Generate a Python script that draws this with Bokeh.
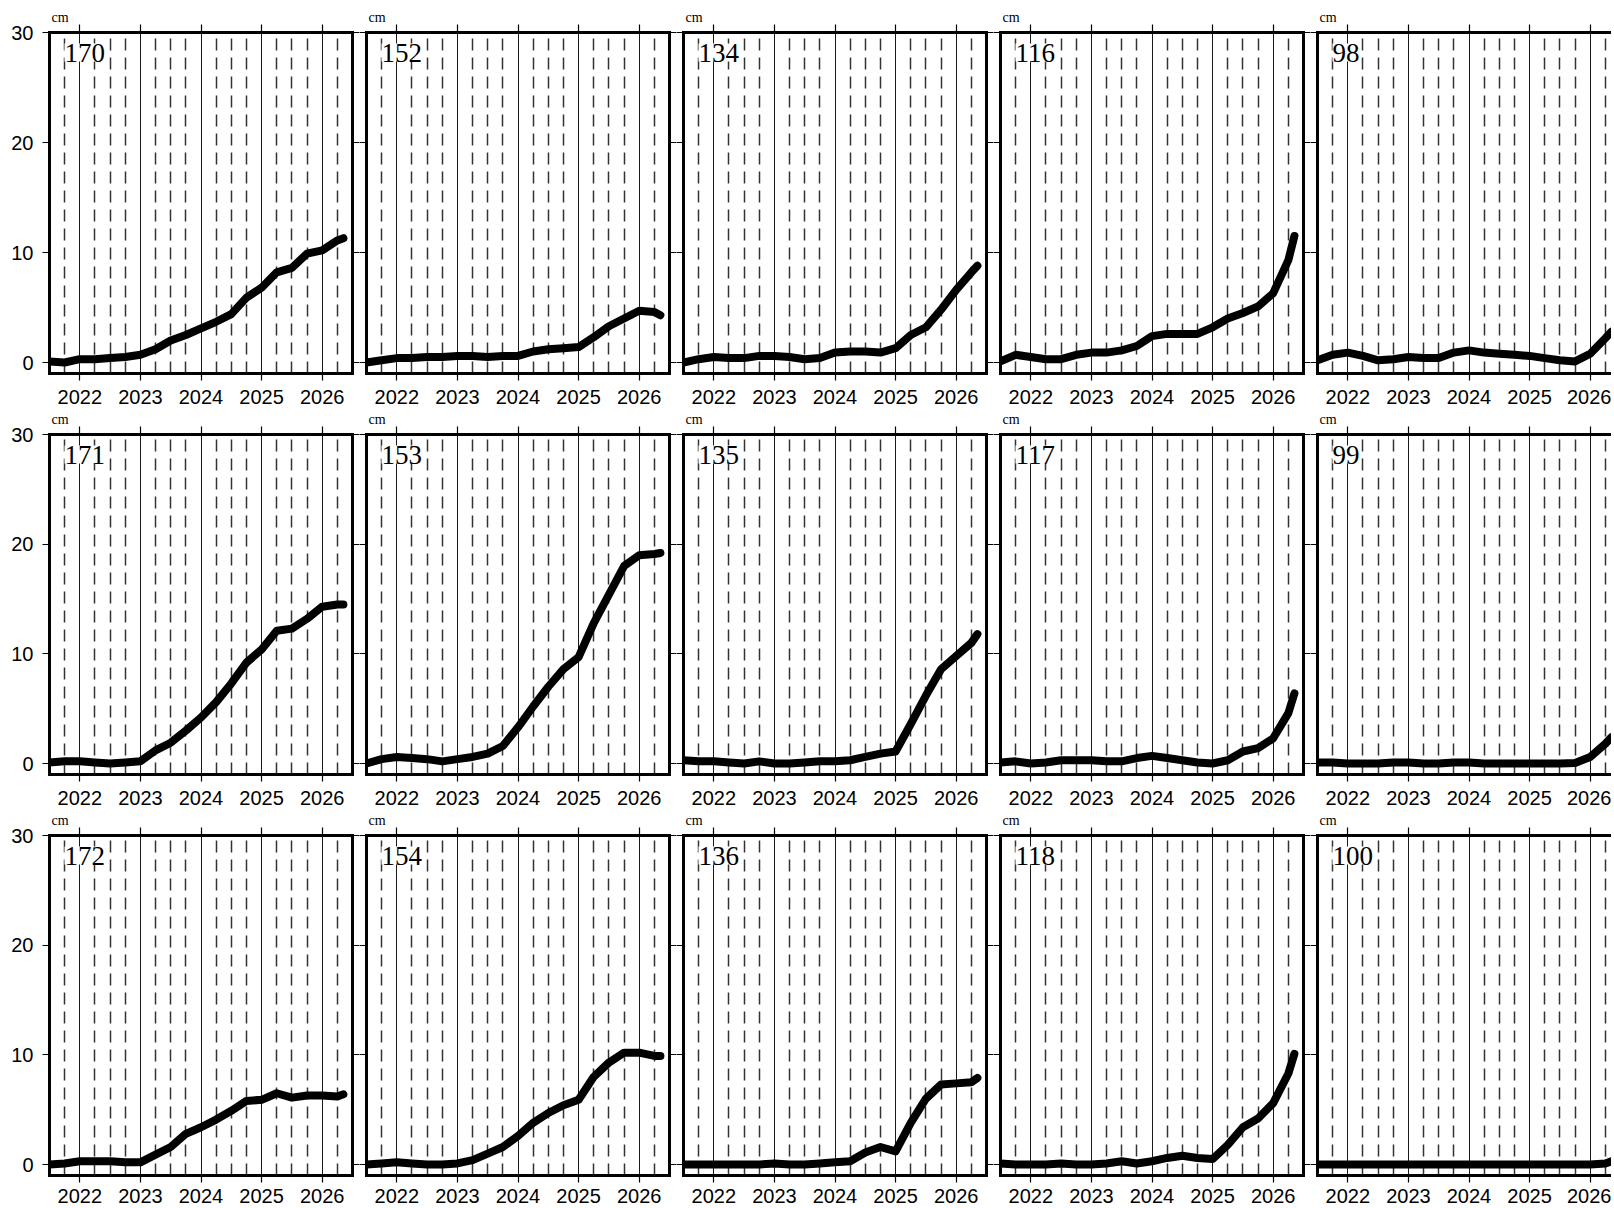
from bokeh.plotting import figure
from bokeh.models import Range1d, FixedTicker, LinearAxis, Label
from bokeh.layouts import column, row
from bokeh.embed import file_html
from bokeh.resources import INLINE

# ---------------- data ----------------
t = [2021.5, 2021.75, 2022.0, 2022.25, 2022.5, 2022.75, 2023.0, 2023.25, 2023.5, 2023.75,
     2024.0, 2024.25, 2024.5, 2024.75, 2025.0, 2025.25, 2025.5, 2025.75, 2026.0, 2026.25, 2026.35]

s170 = [0.1, 0.0, 0.3, 0.3, 0.4, 0.5, 0.7, 1.2, 2.0, 2.5, 3.1, 3.7, 4.4, 5.9, 6.8, 8.2, 8.6, 9.9, 10.2, 11.1, 11.3]
s152 = [0.0, 0.2, 0.4, 0.4, 0.5, 0.5, 0.6, 0.6, 0.5, 0.6, 0.6, 1.0, 1.2, 1.3, 1.4, 2.3, 3.3, 4.0, 4.7, 4.6, 4.3]
s134 = [0.0, 0.3, 0.5, 0.4, 0.4, 0.6, 0.6, 0.5, 0.3, 0.4, 0.9, 1.0, 1.0, 0.9, 1.3, 2.5, 3.2, 4.8, 6.6, 8.2, 8.8]
s116 = [0.1, 0.7, 0.5, 0.3, 0.3, 0.7, 0.9, 0.9, 1.1, 1.5, 2.4, 2.6, 2.6, 2.6, 3.2, 4.0, 4.5, 5.1, 6.3, 9.3, 11.5]
s98 = [0.2, 0.7, 0.9, 0.6, 0.2, 0.3, 0.5, 0.4, 0.4, 0.9, 1.1, 0.9, 0.8, 0.7, 0.6, 0.4, 0.2, 0.1, 0.8, 2.2, 2.8]

s171 = [0.1, 0.2, 0.2, 0.1, 0.0, 0.1, 0.2, 1.2, 1.9, 3.0, 4.2, 5.6, 7.3, 9.2, 10.4, 12.1, 12.3, 13.2, 14.3, 14.5, 14.5]
s153 = [0.0, 0.4, 0.6, 0.5, 0.4, 0.2, 0.4, 0.6, 0.9, 1.6, 3.3, 5.2, 7.0, 8.6, 9.7, 12.8, 15.4, 18.0, 19.0, 19.1, 19.2]
s135 = [0.3, 0.2, 0.2, 0.1, 0.0, 0.2, 0.0, 0.0, 0.1, 0.2, 0.2, 0.3, 0.6, 0.9, 1.1, 3.6, 6.2, 8.6, 9.8, 11.0, 11.8]
s117 = [0.1, 0.2, 0.0, 0.1, 0.3, 0.3, 0.3, 0.2, 0.2, 0.5, 0.7, 0.5, 0.3, 0.1, 0.0, 0.3, 1.1, 1.4, 2.3, 4.6, 6.4]
s99 = [0.1, 0.1, 0.0, 0.0, 0.0, 0.1, 0.1, 0.0, 0.0, 0.1, 0.1, 0.0, 0.0, 0.0, 0.0, 0.0, 0.0, 0.05, 0.6, 1.8, 2.4]

s172 = [0.0, 0.1, 0.3, 0.3, 0.3, 0.2, 0.2, 0.9, 1.6, 2.8, 3.4, 4.1, 4.9, 5.8, 5.9, 6.5, 6.1, 6.3, 6.3, 6.2, 6.4]
s154 = [0.0, 0.1, 0.2, 0.1, 0.0, 0.0, 0.1, 0.4, 1.0, 1.6, 2.6, 3.8, 4.7, 5.4, 5.9, 8.0, 9.3, 10.2, 10.2, 9.9, 9.9]
s136 = [0.0, 0.0, 0.0, 0.0, 0.0, 0.0, 0.1, 0.0, 0.0, 0.1, 0.2, 0.3, 1.1, 1.6, 1.2, 3.8, 6.0, 7.3, 7.4, 7.5, 7.9]
s118 = [0.1, 0.0, 0.0, 0.0, 0.1, 0.0, 0.0, 0.1, 0.3, 0.1, 0.3, 0.6, 0.8, 0.6, 0.5, 1.8, 3.4, 4.2, 5.6, 8.3, 10.1]
s100 = [0.0, 0.0, 0.0, 0.0, 0.0, 0.0, 0.0, 0.0, 0.0, 0.0, 0.0, 0.0, 0.0, 0.0, 0.0, 0.0, 0.0, 0.0, 0.0, 0.1, 0.3]

panel_names = [["170", "152", "134", "116", "98"],
               ["171", "153", "135", "117", "99"],
               ["172", "154", "136", "118", "100"]]
panel_series = [[s170, s152, s134, s116, s98],
                [s171, s153, s135, s117, s99],
                [s172, s154, s136, s118, s100]]

year_ticks = [2022, 2023, 2024, 2025, 2026]
quarter_ticks = [2021.75, 2022.25, 2022.5, 2022.75, 2023.25, 2023.5, 2023.75,
                 2024.25, 2024.5, 2024.75, 2025.25, 2025.5, 2025.75, 2026.25]
y_ticks = [0, 10, 20, 30]
unit_label = "cm"

# ---------------- layout constants ----------------
X0, X1 = 2021.5, 2026.5
FRAME_W = 303
FRAME_W_LAST = 294
FRAME_H = 341
PX_PER_YEAR = FRAME_W / (X1 - X0)
TOPS = [32, 24, 24]
BOTTOMS = [36, 36, 33]
XSTAND = [9, 9, 6]
TICK_FONT = "Liberation Sans"
SERIF = "Liberation Serif"


def style_axis(ax, labels, tick_out=7):
    ax.axis_line_color = "black"
    ax.axis_line_width = 3
    ax.axis_line_cap = "square"
    ax.major_tick_in = 0
    ax.major_tick_out = tick_out
    ax.major_tick_line_color = "black"
    ax.major_tick_line_width = 1.2
    ax.minor_tick_line_color = None
    ax.minor_tick_in = 0
    ax.minor_tick_out = 0
    if labels:
        ax.major_label_text_font = TICK_FONT
        ax.major_label_text_font_size = "20px"
        ax.major_label_text_color = "black"
    else:
        ax.major_label_text_color = None
        ax.major_label_standoff = 0


def make_panel(r, c):
    last = (c == 4)
    fw = FRAME_W_LAST if last else FRAME_W
    left = 49 if c == 0 else 7
    right = 0 if last else 7
    top = TOPS[r]
    bottom = BOTTOMS[r]
    x_end = X0 + fw / PX_PER_YEAR
    p = figure(width=left + fw + right, height=top + FRAME_H + bottom,
               x_range=Range1d(X0, x_end), y_range=Range1d(-1, 30),
               output_backend="svg", toolbar_location=None,
               min_border_left=left, min_border_right=right,
               min_border_top=top, min_border_bottom=bottom)
    p.outline_line_color = None
    p.background_fill_color = "white"
    p.border_fill_color = "white"

    p.title.text = unit_label
    p.title.align = "left"
    p.title.offset = 2
    p.title.standoff = 0
    p.title.text_font = SERIF
    p.title.text_font_size = "14px"
    p.title.text_font_style = "normal"
    p.title.text_color = "black"

    xt = FixedTicker(ticks=year_ticks, minor_ticks=quarter_ticks)
    yt = FixedTicker(ticks=y_ticks)

    xb = p.xaxis[0]
    xb.ticker = xt
    style_axis(xb, True)
    xb.major_label_standoff = XSTAND[r]

    yl = p.yaxis[0]
    yl.ticker = yt
    style_axis(yl, c == 0)
    if c == 0:
        yl.major_label_standoff = 9

    xa = LinearAxis(ticker=FixedTicker(ticks=year_ticks))
    style_axis(xa, False, tick_out=8)
    p.add_layout(xa, "above")
    if not last:
        yr = LinearAxis(ticker=FixedTicker(ticks=y_ticks))
        style_axis(yr, False)
        p.add_layout(yr, "right")

    g = p.xgrid[0]
    g.ticker = xt
    g.grid_line_color = "#1a1a1a"
    g.grid_line_width = 1
    g.minor_grid_line_color = "#333333"
    g.minor_grid_line_width = 1.5
    g.minor_grid_line_dash = "12 7"
    p.ygrid[0].visible = False

    p.line(t, panel_series[r][c], line_color="black", line_width=8,
           line_join="round", line_cap="round")

    p.add_layout(Label(x=X0, y=30, x_offset=15, y_offset=-11, text=panel_names[r][c],
                       text_font=SERIF, text_font_size="27px", text_color="black",
                       text_baseline="top", background_fill_color="white"))
    return p


rows = []
for r in range(3):
    rows.append(row(*[make_panel(r, c) for c in range(5)], spacing=0))
layout = column(*rows, spacing=0)

open("out.html", "w").write(file_html(layout, INLINE))
